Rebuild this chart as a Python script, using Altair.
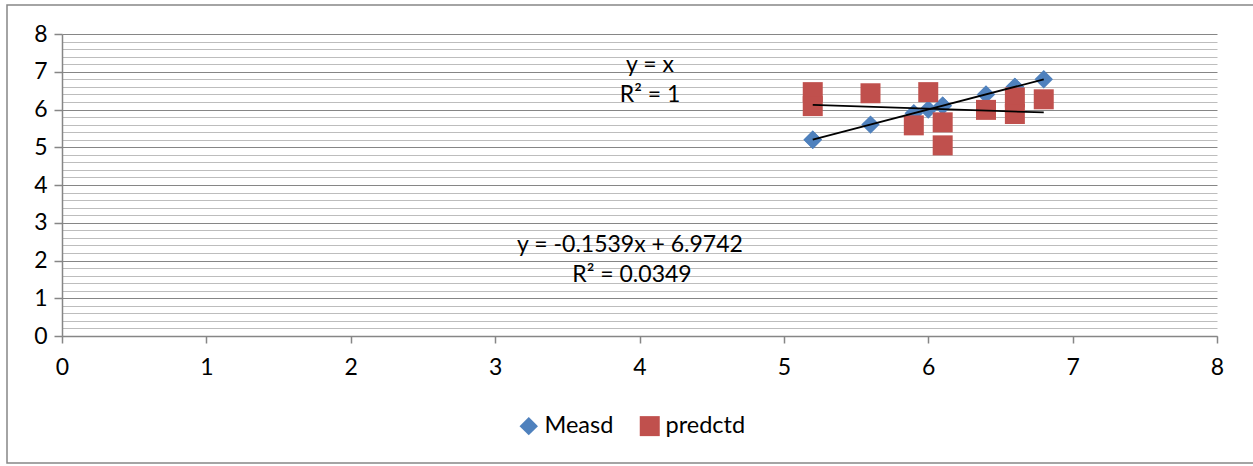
import altair as alt
import pandas as pd

# ---- data ----
x_vals = [5.2, 5.2, 5.6, 5.9, 6.0, 6.1, 6.1, 6.4, 6.6, 6.6, 6.8]
measd = [5.2, 5.2, 5.6, 5.9, 6.0, 6.1, 6.1, 6.4, 6.6, 6.6, 6.8]
predctd = [6.46, 6.09, 6.43, 5.58, 6.46, 5.66, 5.05, 5.99, 6.32, 5.88, 6.27]
series_names = ["Measd", "predctd"]
series_colors = ["#4F81BD", "#C0504D"]
series_shapes = ["diamond", "square"]
axis_ticks = [0, 1, 2, 3, 4, 5, 6, 7, 8]
y_grid_values = [round(i * 0.2, 1) for i in range(41)]
eq_labels = ["y = x", "R² = 1", "y = -0.1539x + 6.9742", "R² = 0.0349"]

df = pd.DataFrame({
    "x": x_vals + x_vals,
    "y": measd + predctd,
    "series": [series_names[0]] * len(measd) + [series_names[1]] * len(predctd),
})

FONT = "Lato"
GRAY = "#868686"
major_test = "abs(datum.value - round(datum.value)) < 0.001"

xscale = alt.Scale(domain=[0, 8], nice=False, zero=False)
yscale = alt.Scale(domain=[0, 8], nice=False, zero=False)

x_axis = alt.Axis(
    values=axis_ticks, grid=False, title=None, format="d", labelFlush=False,
    tickSize=7, tickColor=GRAY, tickWidth=1.5,
    domainColor=GRAY, domainWidth=1.5,
    labelFont=FONT, labelFontSize=23, labelColor="black", labelPadding=13,
)
y_axis = alt.Axis(
    values=y_grid_values, grid=True, title=None, labelFlush=False,
    gridColor={"condition": {"test": major_test, "value": GRAY}, "value": "#bdbdbd"},
    gridWidth=1,
    tickSize={"condition": {"test": major_test, "value": 8}, "value": 0},
    tickColor=GRAY, tickWidth=1.5,
    domainColor=GRAY, domainWidth=1.5,
    labelExpr=f"{major_test} ? format(datum.value, 'd') : ''",
    labelFont=FONT, labelFontSize=23, labelColor="black", labelPadding=7,
)

legend = alt.Legend(
    orient="none", legendX=455, legendY=380, direction="horizontal", title=None,
    labelFont=FONT, labelFontSize=23.5, labelColor="black",
    symbolSize=324, symbolStrokeWidth=0, labelOffset=4, columnPadding=24, padding=0,
)

X = alt.X("x:Q", scale=xscale, axis=x_axis)
Y = alt.Y("y:Q", scale=yscale, axis=y_axis)

points = alt.Chart(df).mark_point(filled=True, opacity=1).encode(
    x=X,
    y=Y,
    color=alt.Color("series:N", scale=alt.Scale(domain=series_names, range=series_colors), legend=legend),
    shape=alt.Shape("series:N", scale=alt.Scale(domain=series_names, range=series_shapes), legend=legend),
    size=alt.Size("series:N", scale=alt.Scale(domain=series_names, range=[340, 400]), legend=None),
)

trend = alt.Chart(df).transform_regression(
    "x", "y", groupby=["series"]
).mark_line(color="black", strokeWidth=1.8).encode(
    x=X, y=Y, detail="series:N"
)

one = alt.Data(values=[{"a": 1}])

def label(txt, px, py):
    return alt.Chart(one).mark_text(
        text=txt, font=FONT, fontSize=23, color="black", align="center", baseline="middle"
    ).encode(x=alt.value(px), y=alt.value(py))

labels = [
    label(eq_labels[0], 588, 31),
    label(eq_labels[1], 588, 61),
    label(eq_labels[2], 568, 211),
    label(eq_labels[3], 570, 241),
]

border = alt.Chart(one).mark_rect(
    fill="transparent", stroke=GRAY, strokeWidth=1.5
).encode(x=alt.value(-55), x2=alt.value(1200), y=alt.value(-29), y2=alt.value(429))

chart = alt.layer(border, points, trend, *labels).properties(
    width=1155, height=302,
    padding={"left": 62, "top": 34, "right": 36, "bottom": 130},
    autosize=alt.AutoSizeParams(type="none"),
    background="white",
).configure_view(stroke=None)

chart.save("out.html", embed_options={"renderer": "svg", "actions": False})
